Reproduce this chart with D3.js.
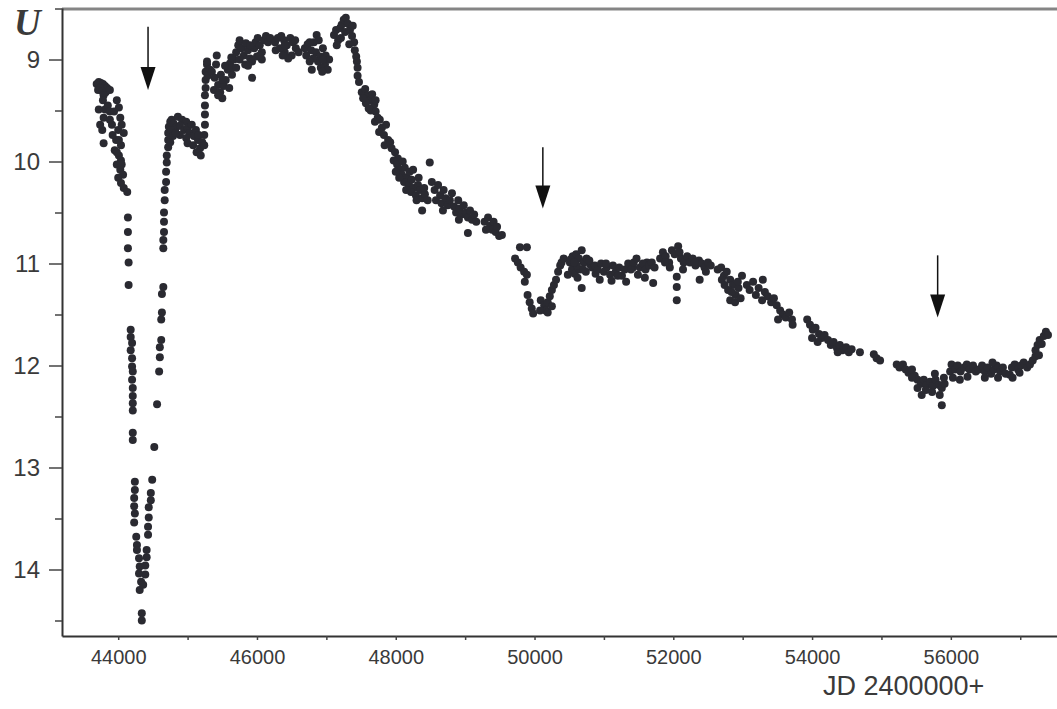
<!DOCTYPE html>
<html>
<head>
<meta charset="utf-8">
<script src="https://cdn.jsdelivr.net/npm/d3@7"></script>
<style>
body { margin: 0; background: #fff; }
text { font-family: "Liberation Sans", Arial, sans-serif; fill: #3a3a3a; }
</style>
</head>
<body>
<svg id="chart" width="1057" height="709"></svg>
<script>
// U light curve, [JD - 2400000, U mag]
var preEclipseA = [[43690,9.24],[43720,9.22],[43750,9.23],[43780,9.24],[43810,9.26],[43840,9.28],[43740,9.28],[43710,9.30],[43770,9.31],[43820,9.32],[43880,9.30],[43790,9.35],[43780,9.40],[43810,9.49],[43790,9.57],[43770,9.69],[43790,9.82],[43740,9.64],[43720,9.49],[43850,9.45],[43880,9.51],[43980,9.40],[44010,9.47],[43940,9.51],[44030,9.57],[43910,9.64],[44000,9.69],[44080,9.72],[43970,9.79],[44040,9.84],[43950,9.89],[44010,9.94],[44040,9.99],[43980,10.03],[44030,10.08],[44070,10.13],[44000,10.16],[44040,10.21],[44080,10.26],[44130,10.30],[43920,9.74],[43880,9.59],[44050,9.64],[44010,9.79],[43980,9.91],[44050,10.03]];

var eclipseA = [[44140,10.55],[44140,10.69],[44140,10.85],[44150,10.99],[44150,11.21],[44180,11.65],[44180,11.72],[44200,11.78],[44180,11.85],[44200,11.93],[44200,12.01],[44210,12.06],[44200,12.14],[44210,12.22],[44210,12.30],[44210,12.37],[44210,12.44],[44210,12.66],[44210,12.73],[44240,13.14],[44240,13.22],[44230,13.30],[44230,13.38],[44240,13.45],[44230,13.54],[44260,13.68],[44270,13.76],[44270,13.81],[44300,13.89],[44310,13.97],[44300,14.04],[44330,14.12],[44340,14.43],[44340,14.50],
  [44310,14.20],[44360,14.15],[44390,14.05],[44390,13.96],[44410,13.88],[44410,13.81],[44430,13.66],[44430,13.58],[44440,13.49],[44440,13.39],[44470,13.32],[44470,13.25],[44490,13.12],[44520,12.80],[44560,12.38],[44590,12.06],[44600,11.92],[44600,11.82],[44620,11.75],[44620,11.55],[44630,11.48],[44630,11.30],[44650,11.23],[44650,10.85],[44650,10.77],[44660,10.69],[44660,10.59],[44660,10.50],[44670,10.38],[44670,10.28],[44690,10.20],[44690,10.10],[44700,10.01],[44700,9.94],[44720,9.86],[44720,9.79],[44720,9.72],[44730,9.66],[44750,9.61],[44770,9.59],[44800,9.63],[44830,9.67],[44760,9.69],[44790,9.75],[44750,9.81]];

var recoveryA = [[44860,9.56],[44920,9.59],[44980,9.61],[44890,9.65],[44950,9.69],[45000,9.67],[45060,9.64],[45030,9.72],[44980,9.77],[45090,9.75],[45120,9.69],[45150,9.79],[45080,9.84],[45180,9.87],[45130,9.91],[45190,9.94],[45210,9.81],[45160,9.74],[45000,9.82],[44890,9.74],[44830,9.72],
  [45240,9.84],[45240,9.74],[45250,9.64],[45250,9.54],[45250,9.45],[45250,9.35],[45260,9.28],[45260,9.20],[45260,9.12],[45280,9.05],[45280,9.02],[45320,9.10],[45290,9.16],
  [45350,9.12],[45390,9.18],[45440,9.25],[45380,9.30],[45470,9.32],[45500,9.38],[45440,9.35],[45520,9.26],[45550,9.20],[45480,9.15],[45580,9.10],[45610,9.04],[45540,9.06],[45640,9.15],[45600,9.28],[45420,8.96],[45670,9.00],[45700,8.93],[45630,8.98],
  [45410,9.05],[45500,9.20],[45640,9.08]];

var maximum = [[45730,8.86],[45750,8.81],[45780,8.89],[45810,8.96],[45840,8.84],[45870,8.91],[45900,8.99],[45930,9.02],[45960,8.89],[45980,8.83],[46010,8.79],[46040,8.86],[46070,8.93],[46100,8.81],[46130,8.77],[46160,8.83],[46190,8.79],[45930,9.18],[45830,9.05],[45750,9.00],[46000,8.97],[46070,9.00],[45700,9.08],[45870,9.06],
  [46260,8.83],[46300,8.79],[46350,8.77],[46390,8.81],[46430,8.86],[46480,8.79],[46520,8.83],[46560,8.89],[46600,8.93],[46400,8.93],[46330,8.89],[46270,8.91],[46500,8.96],[46450,8.99],[46370,8.96],
  [46690,8.89],[46730,8.85],[46780,8.91],[46820,8.83],[46860,8.76],[46890,8.81],[46850,8.93],[46910,8.97],[46950,8.89],[46990,8.96],[47040,9.00],[46980,9.05],[46920,9.08],[46880,9.02],[46810,8.99],[46760,9.02],[46710,8.96],[47020,9.10],[46790,9.10],[46940,9.12],
  [47110,8.76],[47140,8.71],[47170,8.81],[47200,8.69],[47220,8.66],[47250,8.61],[47280,8.59],[47310,8.65],[47270,8.73],[47340,8.71],[47370,8.77],[47400,8.83],[47330,8.85],[47410,8.91],[47430,8.97],[47440,9.02],[47450,9.08],[47450,9.16],[47470,9.22],[47210,8.79],[47150,8.86],[47380,8.67],
  [45900,8.86],[46040,8.96],[46400,8.86],[46550,8.81],[46760,8.83],[46950,9.00]];

var declineB = [[47510,9.32],[47560,9.29],[47600,9.35],[47630,9.40],[47570,9.43],[47530,9.38],[47660,9.34],[47690,9.44],[47640,9.50],[47710,9.51],[47740,9.57],[47700,9.61],[47770,9.59],[47800,9.67],[47760,9.71],[47830,9.74],[47860,9.64],[47890,9.79],[47840,9.84],[47920,9.81],[47710,9.40],[47610,9.48],
  [47940,9.87],[47990,9.91],[48030,9.97],[47970,9.99],[48020,10.03],[48060,10.08],[48100,10.00],[48130,10.06],[48090,10.13],[48160,10.16],[48200,10.10],[48120,10.20],[48190,10.23],[48230,10.18],[48260,10.26],[48220,10.30],[48290,10.33],[48320,10.23],[48350,10.28],[48150,10.28],[48050,10.16],[48000,10.10],[48250,10.08],[48300,10.38],[48380,10.36],[48420,10.32],[48460,10.38],[48410,10.26],[48330,10.16],
  [48490,10.01],[48520,10.20],[48560,10.28],[48610,10.23],[48640,10.33],[48580,10.38],[48660,10.41],[48690,10.28],[48720,10.36],[48750,10.43],[48680,10.48],[48380,10.48],[48780,10.38],[48810,10.31],[48840,10.44],[48870,10.50],[48900,10.38],[48920,10.46],[48950,10.52],[48910,10.57],[48980,10.43],[49010,10.50],[49040,10.55],[49070,10.48],[49100,10.57],[49130,10.52],[49160,10.59],[49040,10.70],[49280,10.59],[49330,10.55],[49360,10.63],[49390,10.67],[49410,10.59],[49440,10.69],[49490,10.73],[49530,10.72],[49300,10.67],[49460,10.64]];

var eclipseB = [[49790,10.84],[49890,10.84],[49720,10.95],[49760,10.99],[49800,11.04],[49850,11.08],[49890,11.11],[49860,11.18],[49900,11.31],[49930,11.38],[49960,11.44],[49980,11.49],[50090,11.36],[50140,11.41],[50160,11.46],[50080,11.46],[50190,11.38],[50220,11.32],[50250,11.26],[50280,11.21],[50310,11.16],[50340,11.08],[50370,11.02],[50390,10.99],[50420,10.95],[50190,11.48],[50250,11.42]];

var plateauB = [[50510,10.99],[50550,10.93],[50600,10.91],[50640,10.95],[50680,10.87],[50710,10.99],[50750,10.95],[50800,11.01],[50540,11.06],[50580,11.10],[50650,11.06],[50740,11.08],[50830,11.04],[50620,11.14],[50680,11.24],[50480,11.11],
  [50520,10.96],[50610,11.02],[50700,11.06],[50790,10.97],[50570,10.99],[50880,11.10],
  [50870,11.02],[50910,11.06],[50960,11.00],[51000,11.08],[51040,11.04],[51090,11.11],[51130,11.02],[51170,11.08],[51220,11.04],[51260,11.12],[51300,11.06],[50940,11.16],[51110,11.17],[51320,11.18],
  [51030,11.00],[51200,11.12],[51420,11.04],[51620,10.99],
  [51350,11.00],[51390,11.06],[51430,10.99],[51470,10.95],[51520,11.04],[51560,11.00],[51600,11.06],[51650,11.02],[51690,10.99],[51730,11.04],[51710,11.19],[51490,11.11],[51590,11.14],
  [51810,10.95],[51850,10.89],[51890,10.93],[51940,10.99],[51980,10.87],[52020,10.91],[52070,10.83],[52110,10.95],[52150,10.99],[52200,10.93],[52050,11.13],[52050,11.23],[52050,11.36],[52240,10.99],[52280,10.95],[52320,11.02],[52370,10.97],[52410,11.00],[52450,11.04],[52500,10.99],[52540,11.02],[52380,11.16],[51950,11.04],[52140,11.06],
  [51880,10.99],[52090,10.89],[52310,10.99],[52470,11.08],
  [52640,11.06],[52690,11.04],[52730,11.12],[52770,11.08],[52820,11.16],[52860,11.21],[52790,11.26],[52900,11.31],[52940,11.24],[52820,11.36],[52890,11.38],[52970,11.34],[52700,11.16],[52740,11.21],[52840,11.28],[52930,11.18],[52990,11.12],
  [53060,11.21],[53100,11.26],[53150,11.18],[53190,11.31],[53230,11.24],[53280,11.36],[53320,11.28],[53290,11.16],[53360,11.32],[53410,11.38],[53450,11.34],[53490,11.41],[53540,11.46],[53580,11.50],[53620,11.53],[53670,11.48],[53710,11.55],[53720,11.60],[53510,11.55]];

var declineC = [[53930,11.55],[53970,11.60],[54010,11.65],[54050,11.63],[54100,11.69],[54140,11.73],[54180,11.70],[54000,11.73],[54080,11.77],[54230,11.75],[54270,11.80],[54310,11.77],[54360,11.83],[54400,11.80],[54440,11.85],[54490,11.82],[54530,11.87],[54570,11.84],[54370,11.87],[54690,11.87],[54890,11.89],[54930,11.93],[54980,11.95]];

var eclipseC = [[55220,11.99],[55260,12.02],[55310,11.99],[55350,12.04],[55390,12.07],[55440,12.04],[55480,12.10],[55520,12.14],[55570,12.18],[55610,12.14],[55650,12.19],[55700,12.16],[55740,12.20],[55780,12.14],[55830,12.19],[55870,12.22],[55910,12.18],[55580,12.29],[55870,12.39],[55840,12.29],[55730,12.26],[55640,12.24],[55520,12.22],[55900,12.12],[55440,12.12],[55770,12.08],
  [55990,12.06],[56010,11.99],[56060,12.04],[56100,12.00],[56140,12.06],[56190,12.02],[56230,11.99],[56270,12.04],[56320,12.00],[56360,12.06],[56030,12.12],[56130,12.14],[56240,12.11],
  [56400,12.04],[56450,12.00],[56490,12.06],[56530,12.02],[56580,12.08],[56620,12.04],[56660,12.00],[56710,12.06],[56750,12.02],[56790,12.08],[56600,11.97],[56490,12.12],[56680,12.12],[56850,12.09],
  [56880,12.02],[56920,11.99],[56970,12.04],[57010,12.00],[57050,11.97],[57100,12.02],[57140,11.99],[57180,11.95],[57220,11.91],[56890,12.12],[56990,12.07],
  [57220,11.85],[57250,11.80],[57280,11.75],[57310,11.79],[57340,11.71],[57370,11.67],[57400,11.70],[57270,11.90]];

// arrows marking the eclipses: JD, magnitude at top of shaft, magnitude at tip
var arrowJD = [44430, 50120, 55810];
var arrowTop = [8.68, 9.86, 10.92];
var arrowTip = [9.30, 10.46, 11.53];

var xTicks = [44000, 46000, 48000, 50000, 52000, 54000, 56000];
var xMinor = [45000, 47000, 49000, 51000, 53000, 55000, 57000];
var yTicks = [9, 10, 11, 12, 13, 14];
var yMinor = [8.5, 9.5, 10.5, 11.5, 12.5, 13.5, 14.5];

var margin = { top: 8, right: 0, bottom: 73, left: 62 },
	width = 1057 - margin.left - margin.right,
	height = 709 - margin.top - margin.bottom;

var svg = d3.select("#chart");
var g = svg.append("g").attr("transform", "translate(" + margin.left + "," + margin.top + ")");

var x = d3.scaleLinear().domain([43190, 57530]).range([0, width]);
var y = d3.scaleLinear().domain([8.495, 14.652]).range([0, height]);

// top frame line
g.append("line")
	.attr("x1", 0).attr("x2", width)
	.attr("y1", 1).attr("y2", 1)
	.attr("stroke", "#858585").attr("stroke-width", 3);

// x axis
var xAxis = g.append("g")
	.attr("transform", "translate(0," + height + ")")
	.call(d3.axisBottom(x)
		.tickValues(xTicks.concat(xMinor))
		.tickSize(4).tickSizeOuter(0).tickPadding(10)
		.tickFormat(function (d) { return xTicks.indexOf(d) >= 0 ? d3.format("d")(d) : ""; }));
xAxis.select(".domain").attr("stroke", "#333").attr("stroke-width", 2);
xAxis.selectAll(".tick line").attr("stroke", "#444").attr("stroke-width", 1.5);
xAxis.selectAll("text").style("font-size", "20px").attr("fill", "#3a3a3a");

// y axis, major + minor
var yAxis = g.append("g")
	.call(d3.axisLeft(y).tickValues(yTicks).tickSize(13).tickSizeOuter(0).tickPadding(9)
		.tickFormat(d3.format("d")));
yAxis.select(".domain").attr("stroke", "#333").attr("stroke-width", 2);
yAxis.selectAll(".tick line").attr("stroke", "#444").attr("stroke-width", 1.5);
yAxis.selectAll("text").style("font-size", "24px").attr("fill", "#3a3a3a");

var yAxisMinor = g.append("g")
	.call(d3.axisLeft(y).tickValues(yMinor).tickSize(7).tickFormat(""));
yAxisMinor.select(".domain").remove();
yAxisMinor.selectAll(".tick line").attr("stroke", "#444").attr("stroke-width", 1.5);

// axis titles
svg.append("text")
	.attr("x", 14).attr("y", 35)
	.style("font-family", "'Liberation Serif', 'Times New Roman', serif")
	.style("font-style", "italic").style("font-weight", "bold")
	.style("font-size", "37px")
	.attr("fill", "#3a3a3a")
	.text("U");

svg.append("text")
	.attr("x", 823).attr("y", 695)
	.style("font-size", "27px")
	.text("JD 2400000+");

// data points
var segments = [preEclipseA, eclipseA, recoveryA, maximum, declineB, eclipseB, plateauB, declineC, eclipseC];
var pts = g.append("g");
segments.forEach(function (seg) {
	pts.selectAll(null).data(seg).enter()
		.append("circle")
		.attr("cx", function (d) { return x(d[0]); })
		.attr("cy", function (d) { return y(d[1]); })
		.attr("r", 4)
		.attr("fill", "#2a2a31");
});

// arrows
var arrows = g.append("g");
arrowJD.forEach(function (jd, i) {
	var ax = x(jd), tip = y(arrowTip[i]);
	arrows.append("line")
		.attr("x1", ax).attr("x2", ax)
		.attr("y1", y(arrowTop[i])).attr("y2", tip - 20)
		.attr("stroke", "#111").attr("stroke-width", 1.5);
	arrows.append("path")
		.attr("d", "M" + (ax - 7.5) + "," + (tip - 23) + "L" + (ax + 7.5) + "," + (tip - 23) + "L" + ax + "," + tip + "Z")
		.attr("fill", "#111");
});
</script>
</body>
</html>
